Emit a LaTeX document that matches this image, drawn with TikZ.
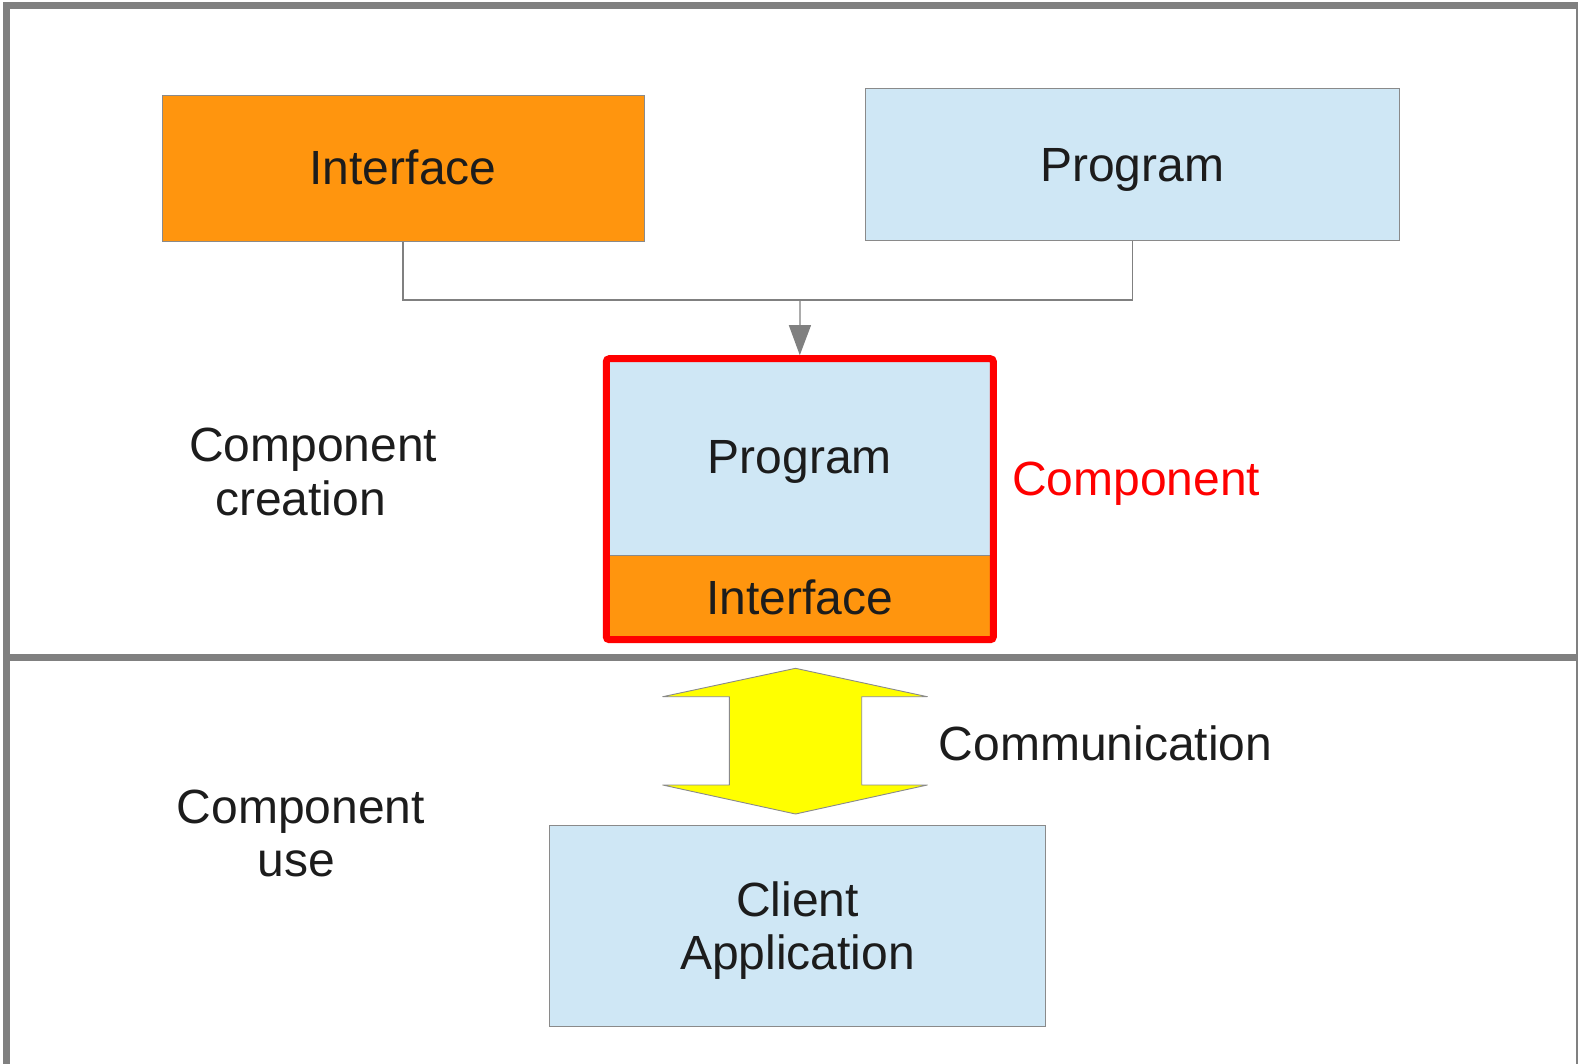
\documentclass[tikz,border=0pt]{standalone}
\usepackage{fontspec}
\setmainfont{Liberation Sans}
\usetikzlibrary{arrows.meta}
\definecolor{framegray}{HTML}{808080}
\definecolor{orangefill}{HTML}{FF950E}
\definecolor{palebluefill}{HTML}{CFE7F5}
\definecolor{inkgray}{HTML}{1C1C1C}
\definecolor{boxline}{HTML}{8A8A8A}
\definecolor{signalyellow}{HTML}{FFFF00}

\begin{document}
\begin{tikzpicture}[x=1pt,y=-1pt,
  txt/.style={font=\fontsize{48}{53.3}\selectfont, text=inkgray, inner sep=0pt},
  box/.style={draw=boxline, line width=0.9pt, inner sep=0pt, txt, text depth=0pt},
  onelinebox/.style={box, text height=33.5pt},
  ifbox/.style={onelinebox, fill=orangefill},
  progbox/.style={onelinebox, fill=palebluefill},
  conn/.style={draw=framegray, line width=1.2pt},
  frameline/.style={draw=framegray, line width=7pt},
]
\useasboundingbox (0,0) rectangle (1578,1064);

% outer frame and the divider between creation and use
\draw[frameline] (6.5,5.5) rectangle (1579,1067);
\draw[frameline] (6.5,657) -- (1579,657);

% the two source parts
\node[ifbox, minimum width=482, minimum height=146] (iftop) at (403,168.25) {Interface};
\node[progbox, minimum width=533.5, minimum height=152] (progtop) at (1132.25,164.5) {Program};

% the assembled component
\node[progbox, minimum width=387, minimum height=196.6] (progin) at (799.8,457) {Program};
\node[ifbox, minimum width=387, minimum height=84.4] (ifin) at (799.8,597.5) {Interface};
\node[draw=red, line width=7pt, rounded corners=3pt, minimum width=387,
      minimum height=281, inner sep=0pt] (comp) at (799.8,499.2) {};
\node[txt, anchor=base west, text=red] (complbl) at (1012,495) {Component};

% merging connector
\coordinate (join) at (800,300);
\draw[conn] (iftop.south) |- (join) -| (progtop.south);
\draw[conn, -{Triangle[width=22pt,length=30pt]}] (join) -- (comp.north);

% communication arrow
\draw[draw=boxline, line width=0.9pt, line join=round, fill=signalyellow]
  (795.5,668.3) -- (927.3,696.7) -- (861.7,696.7) -- (861.7,785) -- (927.3,785)
  -- (795.5,814) -- (662.7,785) -- (729.3,785) -- (729.3,696.7) -- (662.7,696.7) -- cycle;
\node[txt, anchor=base west] (commlbl) at (938.5,760) {Communication};

% client
\node[box, fill=palebluefill, align=center, minimum width=496.1, minimum height=201.5]
  (client) at (797.5,925.75) {Client\\Application};

% section labels
\node[txt, anchor=base west] (createA) at (189,461.7) {Component};
\node[txt, anchor=base west] (createB) at (215,515) {creation};
\node[txt, anchor=base west] (useA) at (176.5,823) {Component};
\node[txt, anchor=base west] (useB) at (257.5,876.5) {use};
\end{tikzpicture}
\end{document}
